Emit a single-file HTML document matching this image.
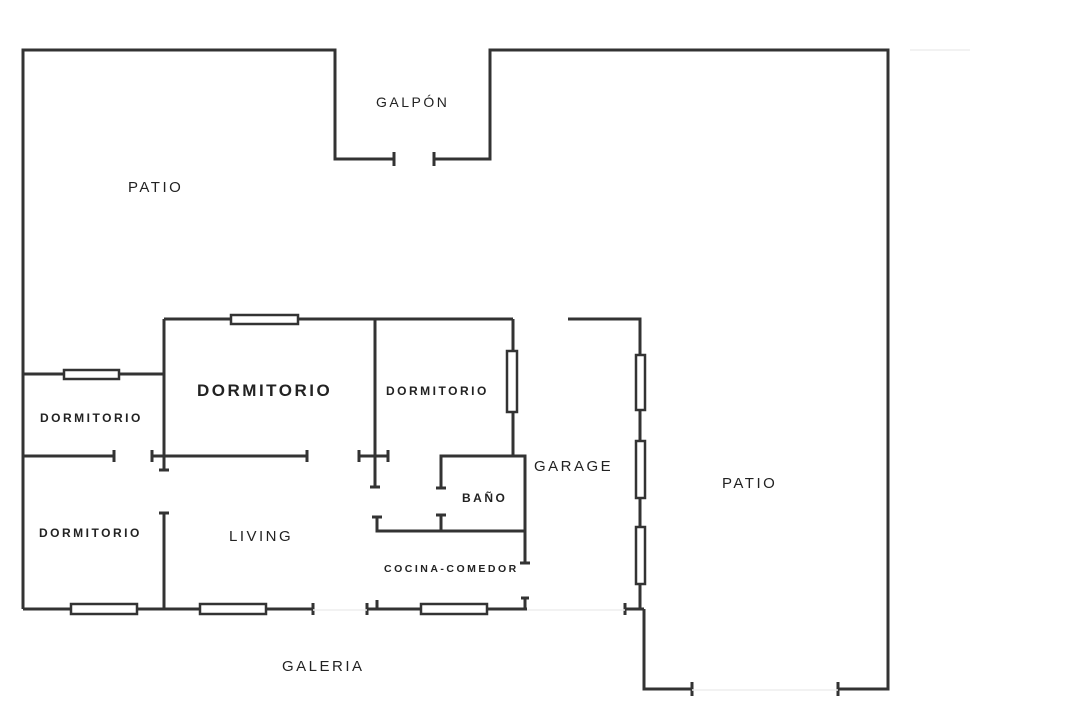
<!DOCTYPE html>
<html><head><meta charset="utf-8"><style>
html,body{margin:0;padding:0;background:#fff;width:1080px;height:720px;overflow:hidden}
svg{display:block}
text{font-family:"Liberation Sans",sans-serif;fill:#222;letter-spacing:2.5px}
</style></head><body>
<svg width="1080" height="720" viewBox="0 0 1080 720" xmlns="http://www.w3.org/2000/svg">
<g stroke="#333" stroke-width="3" fill="none" stroke-linecap="butt">
<polyline points="23,609 23,50 335,50 335,159 394,159"/>
<polyline points="434,159 490,159 490,50 888,50 888,689 838,689"/>
<line x1="394" y1="152" x2="394" y2="166"/><line x1="434" y1="152" x2="434" y2="166"/>
<polyline points="692,689 644,689 644,609"/>
<line x1="692" y1="682" x2="692" y2="696"/><line x1="838" y1="682" x2="838" y2="696"/>
<line x1="23" y1="374" x2="164" y2="374"/>
<line x1="164" y1="319" x2="164" y2="470"/>
<line x1="164" y1="319" x2="513" y2="319"/>
<line x1="23" y1="456" x2="114" y2="456"/><line x1="114" y1="450" x2="114" y2="462"/>
<line x1="152" y1="456" x2="307" y2="456"/><line x1="152" y1="450" x2="152" y2="462"/><line x1="307" y1="450" x2="307" y2="462"/>
<line x1="159" y1="470" x2="169" y2="470"/>
<line x1="164" y1="513" x2="164" y2="609"/><line x1="159" y1="513" x2="169" y2="513"/>
<line x1="23" y1="609" x2="313" y2="609"/><line x1="313" y1="603" x2="313" y2="615"/>
<line x1="367" y1="609" x2="527" y2="609"/><line x1="367" y1="603" x2="367" y2="615"/>
<line x1="377" y1="600" x2="377" y2="609"/><line x1="525" y1="598" x2="525" y2="609"/><line x1="521" y1="598" x2="529" y2="598"/>
<line x1="375" y1="319" x2="375" y2="487"/><line x1="370" y1="487" x2="380" y2="487"/>
<line x1="359" y1="456" x2="388" y2="456"/><line x1="359" y1="450" x2="359" y2="462"/><line x1="388" y1="450" x2="388" y2="462"/>
<line x1="513" y1="319" x2="513" y2="456"/>
<polyline points="441,488 441,456 525,456 525,563"/>
<line x1="436" y1="488" x2="446" y2="488"/><line x1="520" y1="563" x2="530" y2="563"/>
<polyline points="377,517 377,531 525,531"/><line x1="372" y1="517" x2="382" y2="517"/>
<line x1="441" y1="515" x2="441" y2="531"/><line x1="436" y1="515" x2="446" y2="515"/>
<polyline points="568,319 640,319 640,609"/>
<line x1="625" y1="609" x2="644" y2="609"/><line x1="625" y1="603" x2="625" y2="615"/>
</g>
<g stroke="#333" stroke-width="2.5" fill="#fff">
<rect x="64" y="370" width="55" height="9"/>
<rect x="231" y="315" width="67" height="9"/>
<rect x="71" y="604" width="66" height="10"/>
<rect x="200" y="604" width="66" height="10"/>
<rect x="421" y="604" width="66" height="10"/>
<rect x="507" y="351" width="10" height="61"/>
<rect x="636" y="355" width="9" height="55"/>
<rect x="636" y="441" width="9" height="57"/>
<rect x="636" y="527" width="9" height="57"/>
</g>
<g stroke="#eee" stroke-width="1.5"><line x1="313" y1="610" x2="367" y2="610"/><line x1="527" y1="610" x2="625" y2="610"/><line x1="910" y1="50" x2="970" y2="50"/><line x1="692" y1="690" x2="838" y2="690"/></g>
<text x="376" y="107" font-size="14">GALPÓN</text>
<text x="128" y="192" font-size="15">PATIO</text>
<text x="197" y="396" font-size="17" font-weight="bold" letter-spacing="3px">DORMITORIO</text>
<text x="386" y="395" font-size="12" font-weight="bold">DORMITORIO</text>
<text x="40" y="422" font-size="12" font-weight="bold">DORMITORIO</text>
<text x="39" y="537" font-size="12" font-weight="bold">DORMITORIO</text>
<text x="229" y="541" font-size="15">LIVING</text>
<text x="462" y="502" font-size="12" font-weight="bold">BAÑO</text>
<text x="534" y="471" font-size="15">GARAGE</text>
<text x="384" y="572" font-size="10.5" font-weight="bold" letter-spacing="1.2px">COCINA-COMEDOR</text>
<text x="722" y="488" font-size="15">PATIO</text>
<text x="282" y="671" font-size="15">GALERIA</text>
</svg>
</body></html>
